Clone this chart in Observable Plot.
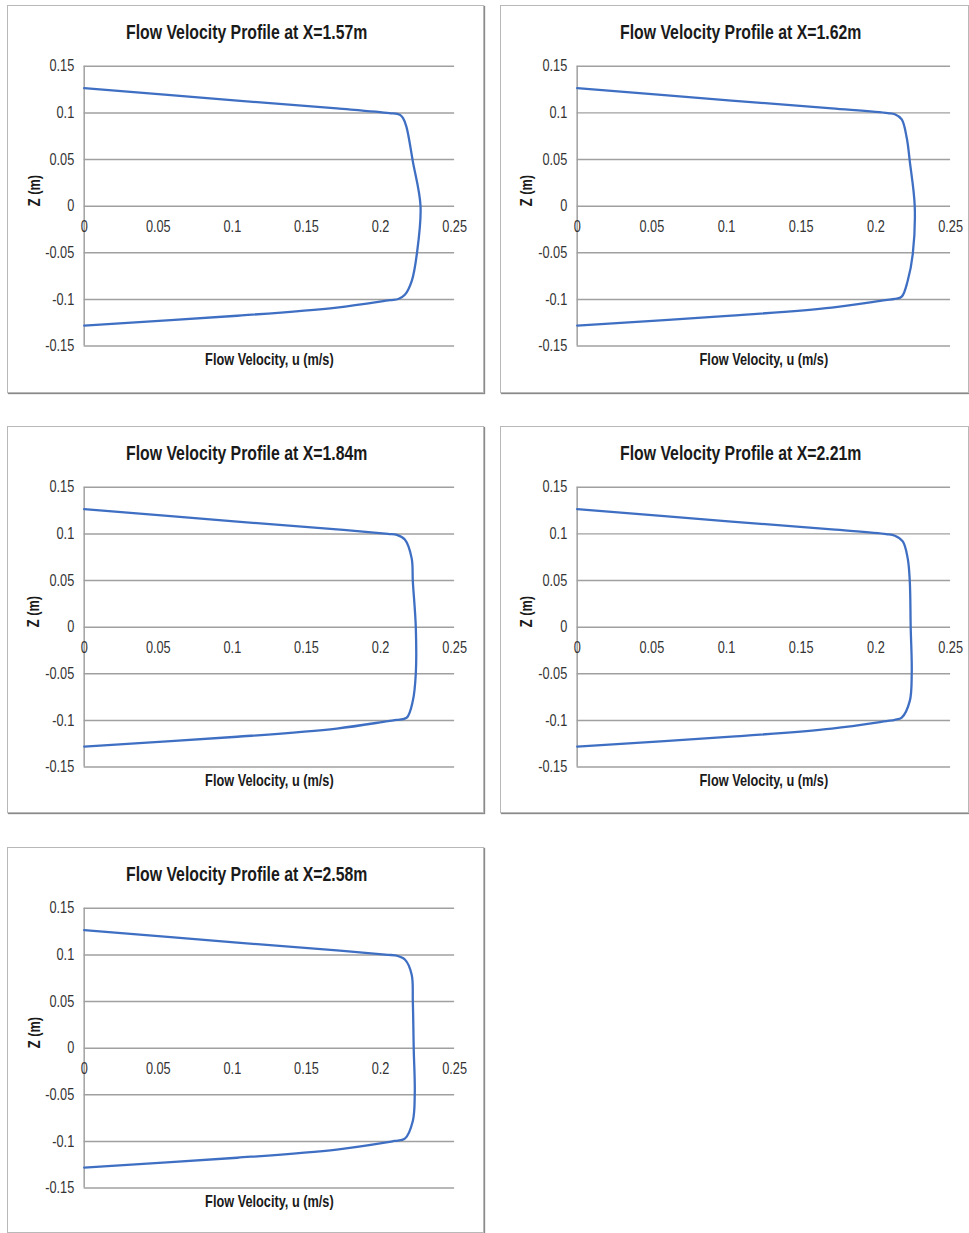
<!DOCTYPE html>
<html>
<head>
<meta charset="utf-8">
<script src="https://cdn.jsdelivr.net/npm/d3@7"></script>
<script src="https://cdn.jsdelivr.net/npm/@observablehq/plot@0.6"></script>
<style>
  html, body { margin: 0; padding: 0; background: #fff; }
  body { width: 969px; height: 1233px; position: relative; overflow: hidden;
         font-family: "Liberation Sans", Arial, sans-serif; }
  .panel { position: absolute; box-sizing: border-box; border: 1px solid #b8b8b8;
           box-shadow: 1px 1px 1px #8a8a8a; background: #fff; }
  .ptitle { position: absolute; top: 15px; font-weight: bold; font-size: 21px; line-height: 22px;
            color: #1a1a1a; white-space: nowrap; transform-origin: 0 50%; }
  .panel svg { position: absolute; left: 0; top: 0; }
</style>
</head>
<body>
<script>
// ---- data ----
const titles = [
  "Flow Velocity Profile at X=1.57m",
  "Flow Velocity Profile at X=1.62m",
  "Flow Velocity Profile at X=1.84m",
  "Flow Velocity Profile at X=2.21m",
  "Flow Velocity Profile at X=2.58m"
];

const u157 = [0, 0.1033, 0.1705, 0.206, 0.213, 0.2152, 0.2175, 0.2218, 0.227, 0.2245, 0.2211, 0.2164, 0.212, 0.2063, 0.1705, 0.1033, 0];
const z157 = [0.1265, 0.1132, 0.1048, 0.0998, 0.098, 0.0943, 0.085, 0.048, 0.0, -0.0513, -0.080, -0.095, -0.0995, -0.1008, -0.1087, -0.1175, -0.128];

const u162 = [0, 0.1033, 0.1705, 0.208, 0.2127, 0.2173, 0.2207, 0.2227, 0.226, 0.2247, 0.2213, 0.2173, 0.2127, 0.2063, 0.1705, 0.1033, 0];
const z162 = [0.1265, 0.1132, 0.1048, 0.0998, 0.0985, 0.093, 0.0727, 0.048, 0.0, -0.0513, -0.080, -0.097, -0.0995, -0.1008, -0.1087, -0.1175, -0.128];

const u184 = [0, 0.1033, 0.1705, 0.205, 0.211, 0.2164, 0.221, 0.2218, 0.2238, 0.2238, 0.2218, 0.2177, 0.211, 0.205, 0.1705, 0.1033, 0];
const z184 = [0.1265, 0.1132, 0.1048, 0.1, 0.099, 0.094, 0.074, 0.049, 0.0, -0.05, -0.079, -0.097, -0.0995, -0.1008, -0.1087, -0.1175, -0.128];

const u221 = [0, 0.1033, 0.1705, 0.207, 0.2127, 0.218, 0.2213, 0.2227, 0.2233, 0.224, 0.2227, 0.2173, 0.2127, 0.207, 0.1705, 0.1033, 0];
const z221 = [0.1265, 0.1132, 0.1048, 0.0998, 0.098, 0.0919, 0.0737, 0.049, 0.0, -0.049, -0.0791, -0.097, -0.0994, -0.1008, -0.1087, -0.1175, -0.128];

const u258 = [0, 0.1033, 0.1705, 0.205, 0.2097, 0.2164, 0.221, 0.2218, 0.2224, 0.2231, 0.2218, 0.2164, 0.2097, 0.205, 0.1705, 0.1033, 0];
const z258 = [0.1265, 0.1132, 0.1048, 0.1, 0.0995, 0.095, 0.079, 0.05, 0.0, -0.049, -0.078, -0.097, -0.0994, -0.1008, -0.1087, -0.1175, -0.128];

const seriesU = [u157, u162, u184, u221, u258];
const seriesZ = [z157, z162, z184, z221, z258];

const xTicks = [0, 0.05, 0.1, 0.15, 0.2, 0.25];
const xTickLabels = ["0", "0.05", "0.1", "0.15", "0.2", "0.25"];
const yTicks = [0.15, 0.1, 0.05, 0, -0.05, -0.1, -0.15];
const yTickLabels = ["0.15", "0.1", "0.05", "0", "-0.05", "-0.1", "-0.15"];
const xLabel = "Flow Velocity, u (m/s)";
const yLabel = "Z (m)";

// ---- layout ----
const panels = [
  {left: 7,   top: 5,   width: 477, height: 388, mr: 29, tc: 238},
  {left: 500, top: 5,   width: 469, height: 388, mr: 18, tc: 239},
  {left: 7,   top: 426, width: 477, height: 387, mr: 29, tc: 238},
  {left: 500, top: 426, width: 469, height: 387, mr: 18, tc: 239},
  {left: 7,   top: 847, width: 477, height: 386, mr: 29, tc: 238}
];

const FONT = '"Liberation Sans", Arial, sans-serif';
const GRID = "#a0a0a0";
const LINE = "#3f6fc3";
const NARROW = 0.8;   // horizontal condensation (reference uses a narrow face)

panels.forEach((p, i) => {
  const div = document.createElement("div");
  div.className = "panel";
  div.style.left = p.left + "px";
  div.style.top = p.top + "px";
  div.style.width = p.width + "px";
  div.style.height = p.height + "px";

  const data = seriesU[i].map((u, k) => ({u, z: seriesZ[i][k]}));
  const mt = 60, mb = p.height - 341, ml = 76;

  const chart = Plot.plot({
    width: p.width,
    height: p.height,
    marginLeft: ml,
    marginRight: p.mr,
    marginTop: mt,
    marginBottom: mb,
    style: {fontFamily: FONT, fontSize: "16px", color: "#333", background: "transparent"},
    x: {domain: [0, 0.25], axis: null},
    y: {domain: [-0.15, 0.15], axis: null},
    marks: [
      Plot.ruleY(yTicks, {stroke: GRID, strokeWidth: 1.5}),
      Plot.ruleX([0], {stroke: GRID, strokeWidth: 1.5}),
      Plot.axisY({ticks: yTicks, tickSize: 0, tickPadding: 10, label: null,
                  tickFormat: (d) => yTickLabels[yTicks.indexOf(d)], fill: "#333"}),
      Plot.text(xTicks, {x: (d) => d, y: 0, dy: 21, text: (d, k) => xTickLabels[k], fill: "#333"}),
      Plot.line(data, {x: "u", y: "z", stroke: LINE, strokeWidth: 2.3, curve: "catmull-rom"}),
      Plot.text([yLabel], {frameAnchor: "left", dx: -50, rotate: -90, fontWeight: "bold", fontSize: 16, fill: "#1a1a1a"}),
      Plot.text([xLabel], {frameAnchor: "bottom", dy: 19, fontWeight: "bold", fontSize: 16, fill: "#1a1a1a"})
    ]
  });
  div.appendChild(chart);

  const t = document.createElement("span");
  t.className = "ptitle";
  t.textContent = titles[i];
  div.appendChild(t);

  document.body.appendChild(div);

  // condense text horizontally to mimic the narrow face of the reference
  chart.querySelectorAll("text").forEach((el) => {
    const len = el.getComputedTextLength();
    if (len > 0) {
      el.setAttribute("textLength", (len * NARROW).toFixed(2));
      el.setAttribute("lengthAdjust", "spacingAndGlyphs");
    }
  });
  const w = t.offsetWidth;
  const s = 241 / w;
  t.style.left = (p.tc - 241 / 2) + "px";
  t.style.transform = "scaleX(" + s + ")";
});
</script>
</body>
</html>
